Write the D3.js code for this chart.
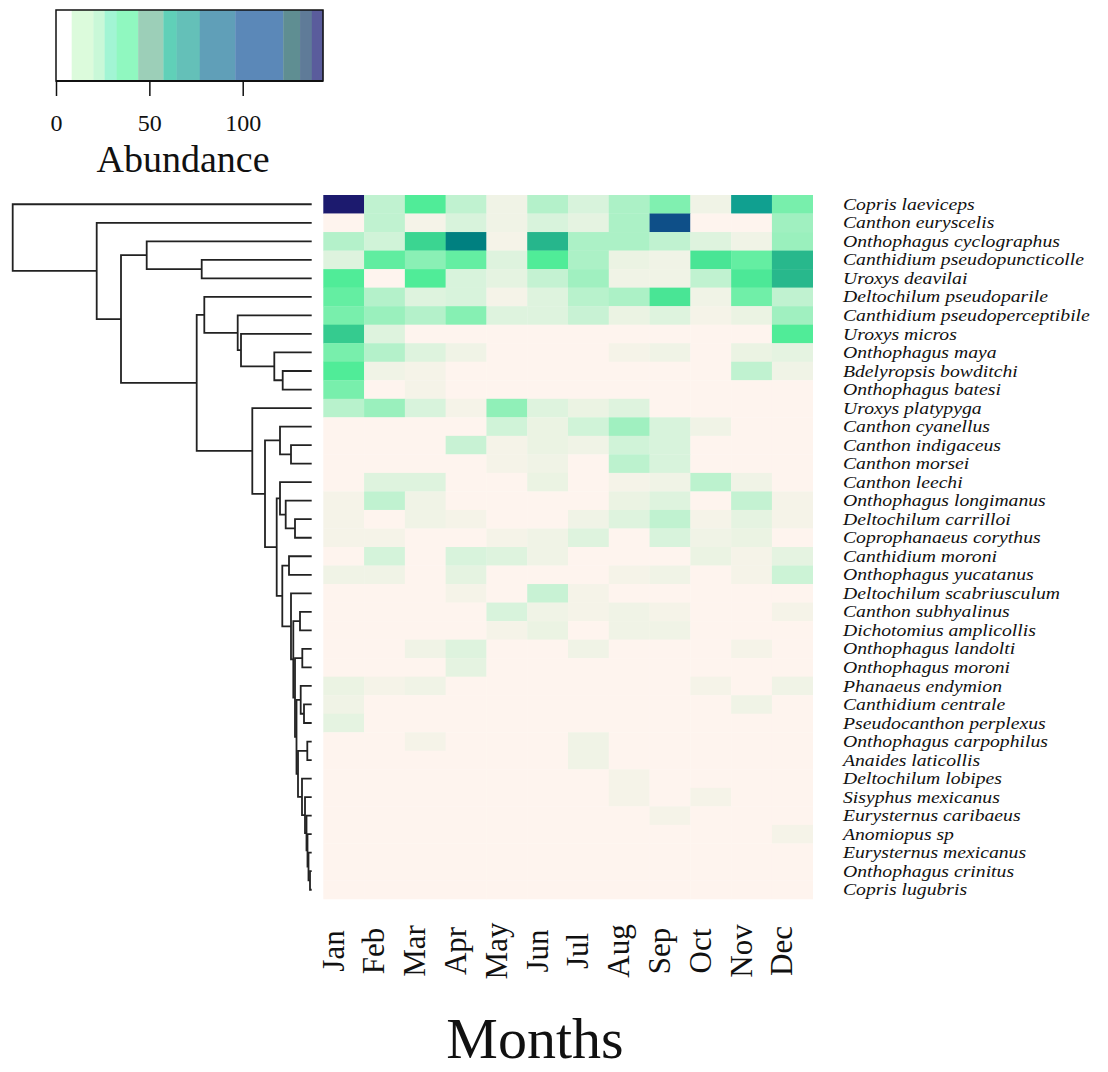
<!DOCTYPE html>
<html>
<head>
<meta charset="utf-8">
<script src="https://cdn.jsdelivr.net/npm/d3@7"></script>
<style>
  html, body { margin: 0; padding: 0; background: #ffffff; }
  svg { display: block; }
</style>
</head>
<body>
<svg id="chart" width="1108" height="1072"></svg>
<script>
// ---------------- DATA ----------------
const months = ["Jan","Feb","Mar","Apr","May","Jun","Jul","Aug","Sep","Oct","Nov","Dec"];

const species = [
  "Copris laeviceps","Canthon euryscelis","Onthophagus cyclographus","Canthidium pseudopuncticolle",
  "Uroxys deavilai","Deltochilum pseudoparile","Canthidium pseudoperceptibile","Uroxys micros",
  "Onthophagus maya","Bdelyropsis bowditchi","Onthophagus batesi","Uroxys platypyga",
  "Canthon cyanellus","Canthon indigaceus","Canthon morsei","Canthon leechi",
  "Onthophagus longimanus","Deltochilum carrilloi","Coprophanaeus corythus","Canthidium moroni",
  "Onthophagus yucatanus","Deltochilum scabriusculum","Canthon subhyalinus","Dichotomius amplicollis",
  "Onthophagus landolti","Onthophagus moroni","Phanaeus endymion","Canthidium centrale",
  "Pseudocanthon perplexus","Onthophagus carpophilus","Anaides laticollis","Deltochilum lobipes",
  "Sisyphus mexicanus","Eurysternus caribaeus","Anomiopus sp","Eurysternus mexicanus",
  "Onthophagus crinitus","Copris lugubris"
];

// abundance[species][month], Jan..Dec
const abundance = [
  [143, 12, 42, 12, 2, 15, 6, 17, 30, 2, 90, 32],   // Copris laeviceps
  [0, 12, 1, 6, 2, 6, 4, 17, 125, 0, 0, 20],        // Canthon euryscelis
  [15, 8, 58, 105, 1, 72, 17, 17, 12, 5, 2, 22],    // Onthophagus cyclographus
  [5, 38, 27, 37, 5, 42, 17, 3, 2, 48, 37, 70],     // Canthidium pseudopuncticolle
  [42, 0, 42, 6, 4, 11, 20, 2, 2, 12, 45, 70],      // Uroxys deavilai
  [37, 15, 5, 6, 1, 5, 14, 17, 48, 2, 34, 12],      // Deltochilum pseudoparile
  [32, 22, 15, 28, 5, 5, 10, 3, 5, 1, 3, 20],       // Canthidium pseudoperceptibile
  [62, 5, 0, 0, 0, 0, 0, 0, 0, 0, 0, 42],           // Uroxys micros
  [32, 15, 5, 2, 0, 0, 0, 1, 2, 0, 3, 4],           // Onthophagus maya
  [42, 2, 1, 0, 0, 0, 0, 0, 0, 0, 12, 2],           // Bdelyropsis bowditchi
  [32, 0, 1, 0, 0, 0, 0, 0, 0, 0, 0, 0],            // Onthophagus batesi
  [14, 22, 6, 1, 25, 5, 3, 5, 0, 0, 0, 0],          // Uroxys platypyga
  [0, 0, 0, 0, 8, 3, 8, 20, 6, 2, 0, 0],            // Canthon cyanellus
  [0, 0, 0, 10, 1, 3, 2, 8, 6, 0, 0, 0],            // Canthon indigaceus
  [0, 0, 0, 0, 1, 2, 0, 13, 6, 0, 0, 0],            // Canthon morsei
  [0, 5, 5, 0, 0, 3, 0, 1, 2, 13, 2, 0],            // Canthon leechi
  [1, 12, 2, 0, 0, 0, 0, 3, 5, 0, 11, 1],           // Onthophagus longimanus
  [1, 0, 2, 1, 0, 0, 2, 5, 12, 1, 4, 1],            // Deltochilum carrilloi
  [1, 1, 0, 0, 1, 2, 5, 0, 6, 2, 3, 0],             // Coprophanaeus corythus
  [0, 7, 0, 6, 5, 2, 0, 0, 0, 3, 1, 4],             // Canthidium moroni
  [2, 2, 0, 4, 0, 0, 0, 1, 2, 0, 1, 9],             // Onthophagus yucatanus
  [0, 0, 0, 1, 0, 10, 1, 0, 0, 0, 0, 0],            // Deltochilum scabriusculum
  [0, 0, 0, 0, 6, 2, 1, 2, 1, 0, 0, 1],             // Canthon subhyalinus
  [0, 0, 0, 0, 1, 3, 0, 2, 2, 0, 0, 0],             // Dichotomius amplicollis
  [0, 0, 2, 5, 0, 0, 2, 0, 0, 0, 1, 0],             // Onthophagus landolti
  [0, 0, 0, 4, 0, 0, 0, 0, 0, 0, 0, 0],             // Onthophagus moroni
  [3, 1, 2, 0, 0, 0, 0, 0, 0, 1, 0, 2],             // Phanaeus endymion
  [2, 0, 0, 0, 0, 0, 0, 0, 0, 0, 2, 0],             // Canthidium centrale
  [4, 0, 0, 0, 0, 0, 0, 0, 0, 0, 0, 0],             // Pseudocanthon perplexus
  [0, 0, 1, 0, 0, 0, 2, 0, 0, 0, 0, 0],             // Onthophagus carpophilus
  [0, 0, 0, 0, 0, 0, 2, 0, 0, 0, 0, 0],             // Anaides laticollis
  [0, 0, 0, 0, 0, 0, 0, 1, 0, 0, 0, 0],             // Deltochilum lobipes
  [0, 0, 0, 0, 0, 0, 0, 1, 0, 1, 0, 0],             // Sisyphus mexicanus
  [0, 0, 0, 0, 0, 0, 0, 0, 1, 0, 0, 0],             // Eurysternus caribaeus
  [0, 0, 0, 0, 0, 0, 0, 0, 0, 0, 0, 1],             // Anomiopus sp
  [0, 0, 0, 0, 0, 0, 0, 0, 0, 0, 0, 0],             // Eurysternus mexicanus
  [0, 0, 0, 0, 0, 0, 0, 0, 0, 0, 0, 0],             // Onthophagus crinitus
  [0, 0, 0, 0, 0, 0, 0, 0, 0, 0, 0, 0]              // Copris lugubris
];

// hclust-style merges: negative = leaf (1-based species index), positive = earlier merge (1-based); third = height
const dendroMerges = [
  [-37, -38, 1.7], [-36, 1, 3.2], [-35, 2, 4.2], [-34, 3, 5.2], [-33, 4, 6.7], [-32, 5, 9.7],
  [-30, -31, 4.4], [7, 6, 13.7], [-28, -29, 7.7], [-27, 9, 11], [10, 8, 15.2],
  [-25, -26, 9.4], [12, 11, 16.7], [-23, -24, 11.7], [14, 13, 18.4], [-22, 15, 20.7],
  [-20, -21, 22.7], [17, 16, 29.4], [-18, -19, 16.7], [-17, 19, 26], [-16, 20, 31.7],
  [21, 18, 35], [-14, -15, 20.7], [-13, 23, 31.7], [24, 22, 46.7], [-12, 25, 59.4],
  [-10, -11, 29], [-9, 27, 37.4], [-8, 28, 70.7], [-7, 29, 74], [-6, 30, 107.4],
  [31, 26, 115], [-4, -5, 110], [-3, 33, 165], [34, 32, 190.7], [-2, 35, 215], [-1, 36, 299]
];

// colour key
const keyBreaks = [0, 8.4, 20, 26, 32.5, 44, 57.5, 64.6, 77, 96, 121.7, 130.7, 137, 143];
const keyTicks = [0, 50, 100];

// ---------------- STYLE ----------------
const serif = "'Liberation Serif', 'Times New Roman', Times, serif";
const colorStops = [0, 1, 3, 6, 12, 20, 30, 42, 55, 70, 90, 105, 125, 143];
const colorRange = ["#fef4ee", "#f5f3e8", "#ebf3e3", "#d8f3dc", "#c0f2d0", "#a0f0c0", "#80f0b0",
                    "#50ec98", "#40dc92", "#28b88c", "#10a090", "#008080", "#0e4f88", "#1c1a6e"];
const keyColors = ["#ffffff", "#dcfbdc", "#c9f8d8", "#a2f5d4", "#90f8c0", "#9ccfb8", "#60d0b8",
                   "#64c0b8", "#609fb8", "#5b88b8", "#5f8e92", "#5f7b98", "#5a5c9c"];

const svg = d3.select("#chart");
const color = d3.scaleLinear().domain(colorStops).range(colorRange).interpolate(d3.interpolateRgb).clamp(true);

const x = d3.scaleBand().domain(months).range([323.3, 812.7]).padding(0);
const y = d3.scaleBand().domain(species).range([195, 899]).padding(0);

// ---------------- HEATMAP ----------------
const cells = [];
species.forEach((s, i) => months.forEach((m, j) => cells.push({ s, m, v: abundance[i][j] })));
svg.append("g").selectAll("rect").data(cells).join("rect")
  .attr("x", d => x(d.m))
  .attr("y", d => y(d.s))
  .attr("width", x.bandwidth() + 0.3)
  .attr("height", y.bandwidth() + 0.3)
  .attr("fill", d => color(d.v));

// species labels (slightly widened glyphs, as in the reference)
svg.append("g").selectAll("text").data(species).join("text")
  .attr("transform", d => `translate(843,${y(d) + y.bandwidth() / 2}) scale(1.2,1)`)
  .attr("dy", "0.34em")
  .attr("font-family", serif)
  .attr("font-style", "italic")
  .attr("font-size", 16.4)
  .attr("fill", "#111")
  .text(d => d);

// month labels
svg.append("g").selectAll("text").data(months).join("text")
  .attr("transform", d => `translate(${x(d) + x.bandwidth() / 2},951) rotate(-90)`)
  .attr("text-anchor", "middle")
  .attr("font-family", serif)
  .attr("font-size", 31)
  .attr("fill", "#111")
  .text(d => d);

svg.append("text")
  .attr("x", 535).attr("y", 1058)
  .attr("text-anchor", "middle")
  .attr("font-family", serif)
  .attr("font-size", 58)
  .attr("fill", "#111")
  .text("Months");

// ---------------- DENDROGRAM ----------------
const hScale = d3.scaleLinear().domain([0, 299]).range([311.7, 12.7]);
const nodes = [];
function nodePos(id) {
  if (id < 0) { const s = species[-id - 1]; return { x: hScale(0), y: y(s) + y.bandwidth() / 2 }; }
  return nodes[id - 1];
}
const dendroPaths = [];
dendroMerges.forEach(([a, b, h]) => {
  const pa = nodePos(a), pb = nodePos(b);
  const nx = hScale(h), ny = (pa.y + pb.y) / 2;
  nodes.push({ x: nx, y: ny });
  const p = d3.path();
  p.moveTo(pa.x, pa.y); p.lineTo(nx, pa.y); p.lineTo(nx, pb.y); p.lineTo(pb.x, pb.y);
  dendroPaths.push(p.toString());
});
svg.append("g").selectAll("path").data(dendroPaths).join("path")
  .attr("d", d => d)
  .attr("fill", "none")
  .attr("stroke", "#222")
  .attr("stroke-width", 1.8);

// ---------------- COLOUR KEY ----------------
const kx = d3.scaleLinear().domain([0, 143]).range([56, 323]);
const keyG = svg.append("g");
keyG.selectAll("rect.band").data(keyColors).join("rect")
  .attr("class", "band")
  .attr("x", (d, i) => kx(keyBreaks[i]))
  .attr("y", 10)
  .attr("width", (d, i) => kx(keyBreaks[i + 1]) - kx(keyBreaks[i]) + 0.3)
  .attr("height", 71)
  .attr("fill", d => d);
keyG.append("rect")
  .attr("x", kx(0)).attr("y", 10)
  .attr("width", kx(143) - kx(0)).attr("height", 71)
  .attr("fill", "none").attr("stroke", "#111").attr("stroke-width", 1.5);

const keyAxis = d3.axisBottom(kx).tickValues(keyTicks).tickSize(15).tickPadding(18).tickFormat(d3.format("d"));
const ax = svg.append("g").attr("transform", "translate(0,81)").call(keyAxis);
ax.select(".domain").attr("stroke", "#111").attr("stroke-width", 2).attr("d", `M${kx(0)},0H${kx(143)}`);
ax.selectAll(".tick line").attr("stroke", "#111").attr("stroke-width", 1.5);
ax.selectAll(".tick text").attr("font-family", serif).attr("font-size", 24).attr("fill", "#111");

svg.append("text")
  .attr("x", 183).attr("y", 172)
  .attr("text-anchor", "middle")
  .attr("font-family", serif)
  .attr("font-size", 38)
  .attr("fill", "#111")
  .text("Abundance");
</script>
</body>
</html>
